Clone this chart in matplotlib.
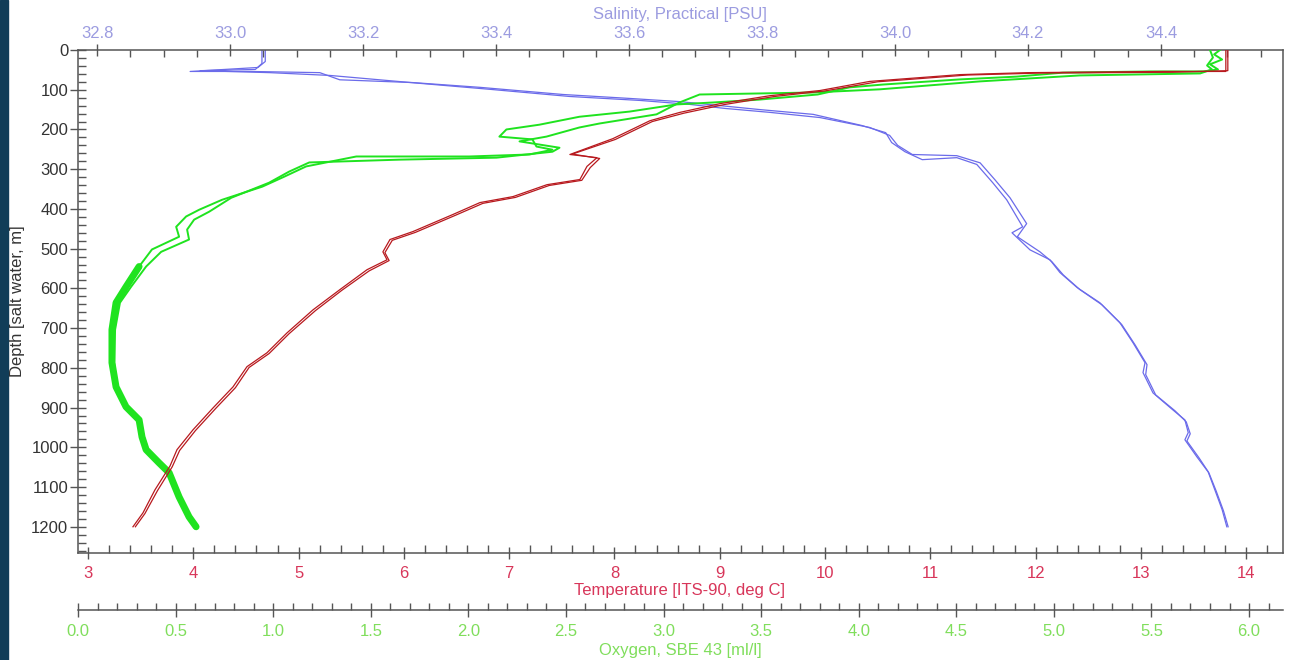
import numpy as np
import matplotlib.pyplot as plt
from matplotlib.ticker import MultipleLocator, FormatStrFormatter
from matplotlib.patches import Rectangle

plt.rcParams['font.family'] = ['Liberation Sans', 'DejaVu Sans']

# salinity, two casts (depth m, PSU)
sal_depth_a = [0, 29, 44, 54, 54, 57, 75, 82, 94, 112, 122, 130, 140, 150, 162, 190, 208, 233, 256, 276,
               271, 288, 334, 377, 445, 460, 503, 528, 560, 598, 636, 686, 737, 787, 812, 863, 906, 931,
               963, 981, 1024, 1062, 1107, 1157, 1200]
sal_a = [33.053, 33.053, 33.042, 32.940, 33.030, 33.135, 33.165, 33.275, 33.376, 33.501, 33.602, 33.677,
         33.737, 33.797, 33.877, 33.950, 33.986, 33.995, 34.015, 34.041, 34.093, 34.123, 34.147, 34.168,
         34.192, 34.176, 34.203, 34.233, 34.248, 34.274, 34.308, 34.338, 34.358, 34.376, 34.373, 34.388,
         34.418, 34.436, 34.441, 34.436, 34.454, 34.471, 34.481, 34.492, 34.499]
sal_depth_b = [0, 34, 49, 52, 57, 64, 84, 99, 117, 127, 137, 147, 157, 170, 195, 215, 240, 263, 266, 284,
               326, 372, 437, 470, 508, 533, 566, 603, 641, 691, 742, 792, 817, 868, 908, 936, 966, 984,
               1026, 1064, 1110, 1160, 1200]
sal_b = [33.048, 33.048, 33.038, 32.955, 33.060, 33.150, 33.286, 33.391, 33.511, 33.617, 33.692, 33.744,
         33.812, 33.887, 33.962, 33.992, 34.004, 34.026, 34.093, 34.128, 34.150, 34.173, 34.198, 34.184,
         34.218, 34.236, 34.253, 34.278, 34.311, 34.341, 34.361, 34.379, 34.377, 34.392, 34.421, 34.438,
         34.444, 34.439, 34.457, 34.472, 34.483, 34.494, 34.501]

# temperature, two casts (depth m, deg C)
temp_depth_a = [0, 54, 54, 57, 62, 79, 102, 115, 135, 157, 178, 223, 263, 271, 293, 326, 339, 369, 384,
                414, 457, 477, 508, 528, 553, 603, 654, 712, 762, 797, 848, 901, 956, 1006, 1047, 1107,
                1165, 1200]
temp_a = [13.807, 13.807, 13.209, 11.927, 11.281, 10.426, 9.952, 9.477, 9.002, 8.622, 8.337, 7.986, 7.577,
          7.834, 7.739, 7.672, 7.359, 7.036, 6.723, 6.466, 6.086, 5.868, 5.801, 5.840, 5.650, 5.393,
          5.137, 4.890, 4.700, 4.510, 4.377, 4.187, 3.997, 3.845, 3.779, 3.636, 3.522, 3.427]
temp_depth_b = [0, 52, 56, 58, 63, 80, 103, 117, 137, 159, 180, 225, 262, 273, 296, 328, 341, 371, 386,
                416, 459, 479, 510, 530, 556, 605, 656, 714, 764, 799, 850, 903, 958, 1008, 1049, 1109,
                1167, 1200]
temp_b = [13.826, 13.826, 13.30, 12.05, 11.35, 10.50, 10.00, 9.52, 9.05, 8.66, 8.36, 8.01, 7.60, 7.86,
          7.77, 7.69, 7.38, 7.06, 6.75, 6.49, 6.11, 5.89, 5.82, 5.86, 5.67, 5.41, 5.16, 4.91, 4.72, 4.53,
          4.40, 4.21, 4.02, 3.87, 3.80, 3.66, 3.54, 3.45]

# oxygen, two casts (depth m, ml/l)
oxy_depth_a = [0, 11, 24, 36, 49, 54, 54, 57, 67, 74, 87, 94, 112, 125, 132, 137, 155, 168, 188, 200,
               218, 225, 243, 251, 263, 268, 268, 293, 319, 344, 377, 402, 419, 445, 470, 502, 545, 596,
               636, 704, 787, 848, 898, 931, 974, 1006, 1039, 1064, 1125, 1175, 1200]
oxy_a = [5.851, 5.821, 5.862, 5.800, 5.841, 5.764, 5.492, 5.046, 4.810, 4.518, 4.123, 3.954, 3.790, 3.487,
         3.256, 3.067, 2.826, 2.569, 2.364, 2.195, 2.159, 2.328, 2.349, 2.431, 2.313, 2.005, 1.426, 1.169,
         1.056, 0.944, 0.738, 0.621, 0.554, 0.503, 0.518, 0.379, 0.313, 0.246, 0.195, 0.174, 0.174, 0.195,
         0.246, 0.313, 0.328, 0.349, 0.415, 0.467, 0.518, 0.569, 0.605]
oxy_depth_b = [0, 19, 39, 49, 59, 64, 79, 99, 107, 112, 132, 162, 185, 195, 218, 230, 246, 256, 271, 276,
               283, 306, 334, 372, 407, 427, 452, 477, 508, 545, 596, 636, 704, 787, 848, 898, 931, 974,
               1006, 1039, 1064, 1125, 1175, 1200]
oxy_b = [5.800, 5.815, 5.785, 5.810, 5.749, 5.133, 4.621, 4.108, 3.764, 3.185, 3.082, 2.964, 2.672, 2.569,
         2.400, 2.262, 2.467, 2.431, 2.144, 1.646, 1.185, 1.082, 0.979, 0.785, 0.672, 0.595, 0.559, 0.569,
         0.426, 0.349, 0.272, 0.215, 0.190, 0.185, 0.200, 0.251, 0.318, 0.338, 0.359, 0.426, 0.472, 0.523,
         0.579, 0.610]

sal_line, sal_text = '#6b6bea', '#9c9ce0'
temp_line, temp_text = '#b8191e', '#d8365a'
oxy_line, oxy_text = '#1fe31f', '#80de5c'
axis_col = '#555555'


def main():
    W, H = 1304, 660
    fig = plt.figure(figsize=(W / 100, H / 100), dpi=100)
    fig.patches.append(Rectangle((0, 0), 8 / W, 1, transform=fig.transFigure,
                                 color='#113d58', zorder=0))

    ax = fig.add_axes([78 / W, 1 - 553 / H, 1205 / W, 503 / H])
    ax_sal = ax.twiny()
    ax_oxy = ax.twiny()
    ax_sal.set_zorder(1)
    ax_oxy.set_zorder(2)
    ax.set_zorder(3)
    for a in (ax, ax_sal, ax_oxy):
        a.patch.set_visible(False)

    # depth axis
    ax.set_ylim(1266, 0)
    ax.yaxis.set_major_locator(MultipleLocator(100))
    ax.yaxis.set_minor_locator(MultipleLocator(20))
    ax.tick_params(axis='y', which='major', direction='inout', length=12, width=1,
                   color=axis_col, labelcolor='#333333', labelsize=12, pad=1)
    ax.tick_params(axis='y', which='minor', direction='in', length=5.5, width=1, color=axis_col)

    # temperature axis (bottom)
    ax.set_xlim(2.905, 14.35)
    ax.xaxis.set_major_locator(MultipleLocator(1))
    ax.xaxis.set_minor_locator(MultipleLocator(0.2))
    ax.xaxis.set_major_formatter(FormatStrFormatter('%d'))
    ax.tick_params(axis='x', which='major', direction='inout', length=9, width=1,
                   color=axis_col, labelcolor=temp_text, labelsize=12, pad=5)
    ax.tick_params(axis='x', which='minor', direction='in', length=5.5, width=1, color=axis_col)
    for s in ax.spines.values():
        s.set_color(axis_col)
        s.set_linewidth(1.1)
    ax.spines['top'].set_visible(False)

    # salinity axis (top)
    ax_sal.set_xlim(32.7714, 34.5835)
    ax_sal.xaxis.set_major_locator(MultipleLocator(0.2))
    ax_sal.xaxis.set_minor_locator(MultipleLocator(0.05))
    ax_sal.xaxis.set_major_formatter(FormatStrFormatter('%.1f'))
    ax_sal.tick_params(axis='x', which='major', direction='inout', length=9, width=1,
                       color=axis_col, labelcolor=sal_text, labelsize=12, pad=2)
    ax_sal.tick_params(axis='x', which='minor', direction='in', length=5, width=1, color=axis_col)
    for k in ('bottom', 'left', 'right'):
        ax_sal.spines[k].set_visible(False)
    ax_sal.spines['top'].set_color(axis_col)
    ax_sal.spines['top'].set_linewidth(1.1)

    # oxygen axis (second bottom)
    ax_oxy.set_xlim(0, 6.174)
    ax_oxy.xaxis.set_ticks_position('bottom')
    ax_oxy.xaxis.set_label_position('bottom')
    ax_oxy.spines['bottom'].set_position(('outward', 41))
    for k in ('top', 'left', 'right'):
        ax_oxy.spines[k].set_visible(False)
    ax_oxy.spines['bottom'].set_color(axis_col)
    ax_oxy.spines['bottom'].set_linewidth(1.1)
    ax_oxy.xaxis.set_major_locator(MultipleLocator(0.5))
    ax_oxy.xaxis.set_minor_locator(MultipleLocator(0.1))
    ax_oxy.xaxis.set_major_formatter(FormatStrFormatter('%.1f'))
    ax_oxy.tick_params(axis='x', which='major', direction='inout', length=10, width=1,
                       color=axis_col, labelcolor=oxy_text, labelsize=12, pad=5)
    ax_oxy.tick_params(axis='x', which='minor', direction='in', length=5, width=1, color=axis_col)

    # profiles
    ax_sal.plot(sal_a, sal_depth_a, color=sal_line, lw=0.9)
    ax_sal.plot(sal_b, sal_depth_b, color=sal_line, lw=0.9)

    oda = np.array(oxy_depth_a)
    oa = np.array(oxy_a)
    deep = oda >= 545
    ax_oxy.plot(oxy_a, oxy_depth_a, color=oxy_line, lw=1.4)
    ax_oxy.plot(oxy_b, oxy_depth_b, color=oxy_line, lw=1.4)
    ax_oxy.plot(oa[deep], oda[deep], color=oxy_line, lw=5, solid_capstyle='round',
                solid_joinstyle='round')

    ax.plot(temp_a, temp_depth_a, color=temp_line, lw=0.9)
    ax.plot(temp_b, temp_depth_b, color=temp_line, lw=0.9)

    # axis titles
    fig.text(680 / W, 1 - 14 / H, 'Salinity, Practical [PSU]', color=sal_text,
             ha='center', va='center', fontsize=12)
    fig.text(680 / W, 1 - 591 / H, 'Temperature [ITS-90, deg C]', color=temp_text,
             ha='center', va='center', fontsize=12)
    fig.text(680 / W, 1 - 651 / H, 'Oxygen, SBE 43 [ml/l]', color=oxy_text,
             ha='center', va='center', fontsize=12)
    fig.text(18 / W, 1 - 301 / H, 'Depth [salt water, m]', color='#333333', rotation=90,
             ha='center', va='center', fontsize=12)

    fig.savefig('out.png', dpi=100, facecolor='white')


if __name__ == '__main__':
    main()
